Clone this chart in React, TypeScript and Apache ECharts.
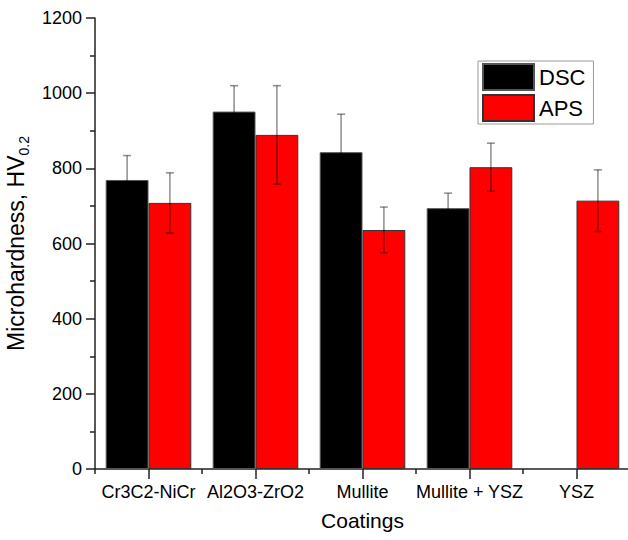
import React, { useEffect, useRef } from "react";
import * as echarts from "echarts";

const categories = ["Cr3C2-NiCr", "Al2O3-ZrO2", "Mullite", "Mullite + YSZ", "YSZ"];
const dscValues: (number | null)[] = [769, 951, 843, 694, null];
const apsValues: (number | null)[] = [708, 889, 636, 803, 714];
const dscErrors: (number | null)[] = [65, 69, 101, 40, null];
const apsErrors: (number | null)[] = [80, 131, 61, 64, 82];
const yTicks = { min: 0, max: 1200, interval: 200 };

const FONT = "Liberation Sans, Arial, sans-serif";

function errorSeries(name: string, values: (number | null)[], errs: (number | null)[], side: number) {
  const data = values
    .map((v, i) => (v == null || errs[i] == null ? null : [i, v, errs[i] as number]))
    .filter((d) => d !== null);
  return {
    type: "custom",
    name: name + " err",
    xAxisIndex: 0,
    yAxisIndex: 0,
    z: 5,
    silent: true,
    data,
    encode: { x: 0, y: 1 },
    renderItem: (params: any, api: any) => {
      const idx = api.value(0);
      const v = api.value(1);
      const e = api.value(2);
      const band = api.size([1, 0])[0];
      const top = api.coord([idx, v + e]);
      const bot = api.coord([idx, v - e]);
      const x = top[0] + side * band * 0.2;
      const cap = 4;
      const style = { stroke: "rgba(0,0,0,0.45)", lineWidth: 1.5 };
      return {
        type: "group",
        children: [
          { type: "line", shape: { x1: x, y1: top[1], x2: x, y2: bot[1] }, style },
          { type: "line", shape: { x1: x - cap, y1: top[1], x2: x + cap, y2: top[1] }, style },
          { type: "line", shape: { x1: x - cap, y1: bot[1], x2: x + cap, y2: bot[1] }, style },
        ],
      };
    },
  };
}

export default function App() {
  const ref = useRef<HTMLDivElement>(null);
  useEffect(() => {
    if (!ref.current) return;
    const chart = echarts.init(ref.current, undefined, { renderer: "svg" });
    const axisColor = "#222";
    chart.setOption({
      animation: false,
      backgroundColor: "#fff",
      textStyle: { fontFamily: FONT },
      grid: { left: 95, top: 18, width: 535, height: 451, containLabel: false, outerBoundsMode: "none" },
      legend: {
        data: ["DSC", "APS"],
        orient: "vertical",
        left: 478,
        top: 61,
        itemWidth: 51,
        itemHeight: 26,
        itemGap: 3,
        padding: [2, 8, 2, 4],
        borderColor: "#999",
        borderWidth: 1,
        icon: "rect",
        textStyle: { fontSize: 22, color: "#000", fontFamily: FONT },
      },
      xAxis: [
        {
          type: "category",
          data: categories,
          name: "Coatings",
          nameLocation: "middle",
          nameGap: 41,
          nameTextStyle: { fontSize: 21, color: "#000", fontFamily: FONT },
          axisLine: { lineStyle: { color: axisColor, width: 1.5 } },
          axisTick: { show: true, length: 5, lineStyle: { color: axisColor, width: 1.5 } },
          axisLabel: { fontSize: 18, color: "#000", margin: 14, fontFamily: FONT, interval: 0 },
          splitLine: { show: false },
        },
        {
          type: "category",
          data: categories,
          position: "bottom",
          axisLine: { show: false },
          axisTick: { show: true, alignWithLabel: true, length: 10, lineStyle: { color: axisColor, width: 1.5 } },
          axisLabel: { show: false },
          splitLine: { show: false },
        },
      ],
      yAxis: {
        type: "value",
        min: yTicks.min,
        max: yTicks.max,
        interval: yTicks.interval,
        name: "{a|Microhardness, HV}{b|0.2}",
        nameLocation: "middle",
        nameGap: 56,
        nameTextStyle: {
          color: "#000",
          rich: {
            a: { fontSize: 23, color: "#000", fontFamily: FONT, lineHeight: 30 },
            b: { fontSize: 14, color: "#000", fontFamily: FONT, verticalAlign: "bottom", lineHeight: 30, padding: [10, 0, 0, 0] },
          },
        },
        axisLine: { show: true, lineStyle: { color: axisColor, width: 1.5 } },
        axisTick: { show: true, inside: false, length: 9, lineStyle: { color: axisColor, width: 1.5 } },
        minorTick: { show: true, splitNumber: 2, length: 5, lineStyle: { color: axisColor, width: 1.5 } },
        axisLabel: {
          fontSize: 18,
          color: "#000",
          margin: 13,
          fontFamily: FONT,
          formatter: (v: number) => String(v),
        },
        splitLine: { show: false },
        minorSplitLine: { show: false },
      },
      series: [
        {
          type: "bar",
          name: "DSC",
          data: dscValues,
          barGap: "0%",
          barCategoryGap: "20%",
          itemStyle: { color: "#000", borderColor: "#555", borderWidth: 1 },
        },
        {
          type: "bar",
          name: "APS",
          data: apsValues,
          barGap: "0%",
          barCategoryGap: "20%",
          itemStyle: { color: "#ff0000", borderColor: "#333", borderWidth: 1 },
        },
        errorSeries("DSC", dscValues, dscErrors, -1),
        errorSeries("APS", apsValues, apsErrors, 1),
      ],
    });
    return () => chart.dispose();
  }, []);
  return (
    <div
      ref={ref}
      style={{ position: "fixed", left: 0, top: 0, width: 628, height: 540 }}
    />
  );
}
